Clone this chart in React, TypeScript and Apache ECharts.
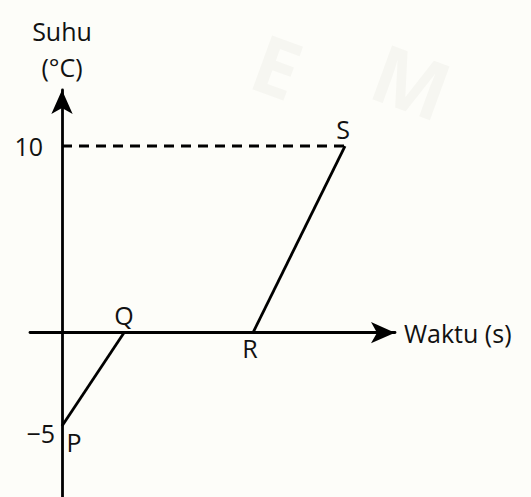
import React, { useEffect, useRef } from "react";
import * as echarts from "echarts";

const pointNames = ["P", "Q", "R", "S"];
const timeValues = [0, 3.1, 9.55, 14.15];
const tempValues = [-5, 0, 0, 10];
const dashedFrom = [0, 10];
const yTickLabels = [10, -5];
const xAxisName = "Waktu (s)";
const yAxisName = "Suhu\n(°C)";

export default function App() {
  const ref = useRef<HTMLDivElement>(null);
  useEffect(() => {
    if (!ref.current) return;
    const chart = echarts.init(ref.current, null, { renderer: "svg" });
    const font = "'Open Sans', sans-serif";
    const labelPos = ["bottom", "top", "bottom", "top"];
    const labelOffset = [[12, -2], [0, 0], [-3, -2], [-2, 0]];
    chart.setOption({
      animation: false,
      backgroundColor: "#fdfdf9",
      graphic: [
        { type: "text", x: 270, y: 20, rotation: -0.35, style: { text: "E", font: "bold 80px 'Open Sans'", fill: "#f6f6f1" } },
        { type: "text", x: 390, y: 30, rotation: -0.35, style: { text: "M", font: "bold 80px 'Open Sans'", fill: "#f6f6f1" } },
      ],
      grid: { left: 30, right: 136, top: 90, bottom: 0, outerBoundsMode: "none", containLabel: false },
      xAxis: {
        type: "value",
        min: -1.6,
        max: 16.65,
        splitLine: { show: false },
        axisTick: { show: false },
        axisLabel: { show: false },
        axisLine: {
          onZero: true,
          symbol: ["none", "arrow"],
          symbolSize: [16, 24],
          symbolOffset: [0, 0],
          lineStyle: { color: "#000", width: 2.8 },
        },
        name: xAxisName,
        nameLocation: "end",
        nameGap: 9,
        nameTextStyle: { fontFamily: font, fontSize: 25, color: "#111" },
      },
      yAxis: {
        type: "value",
        min: -8.8,
        max: 13,
        splitLine: { show: false },
        axisTick: { show: false },
        axisLine: {
          onZero: true,
          symbol: ["none", "arrow"],
          symbolSize: [16, 24],
          symbolOffset: [0, 0],
          lineStyle: { color: "#000", width: 2.8 },
        },
        axisLabel: {
          customValues: yTickLabels,
          margin: -25,
          fontFamily: font,
          fontSize: 25,
          color: "#111",
          formatter: (v: number) => (v > 0 ? "{a|" + v + "}" : "{b|" + String(v).replace("-", "\u2212") + "}"),
          rich: {
            a: { fontFamily: font, fontSize: 25, color: "#111", padding: [0, 12, 0, 0] },
            b: { fontFamily: font, fontSize: 25, color: "#111", padding: [14, 0, 0, 0] },
          },
        },
        name: yAxisName,
        nameLocation: "end",
        nameGap: 5,
        nameTextStyle: { fontFamily: font, fontSize: 25, color: "#111", lineHeight: 36, align: "center" },
      },
      series: [
        {
          type: "line",
          data: [dashedFrom, [timeValues[3], tempValues[3]]],
          symbol: "none",
          lineStyle: { color: "#000", width: 2.8, type: [10, 7] },
          silent: true,
        },
        {
          type: "line",
          data: [[timeValues[0], tempValues[0]], [timeValues[1], tempValues[1]]],
          symbol: "none",
          lineStyle: { color: "#000", width: 2.8 },
        },
        {
          type: "line",
          data: [[timeValues[2], tempValues[2]], [timeValues[3], tempValues[3]]],
          symbol: "none",
          lineStyle: { color: "#000", width: 2.8 },
        },
        {
          type: "scatter",
          symbolSize: 0,
          itemStyle: { opacity: 1 },
          data: pointNames.map((n, i) => ({
            value: [timeValues[i], tempValues[i]],
            name: n,
            label: {
              show: true,
              position: labelPos[i],
              offset: labelOffset[i],
              formatter: n,
              fontFamily: font,
              fontSize: 25,
              color: "#111",
              opacity: 1,
            },
          })),
        },
      ],
    });
    return () => chart.dispose();
  }, []);
  return <div ref={ref} style={{ position: "absolute", left: 0, top: 0, width: 531, height: 497 }} />;
}
